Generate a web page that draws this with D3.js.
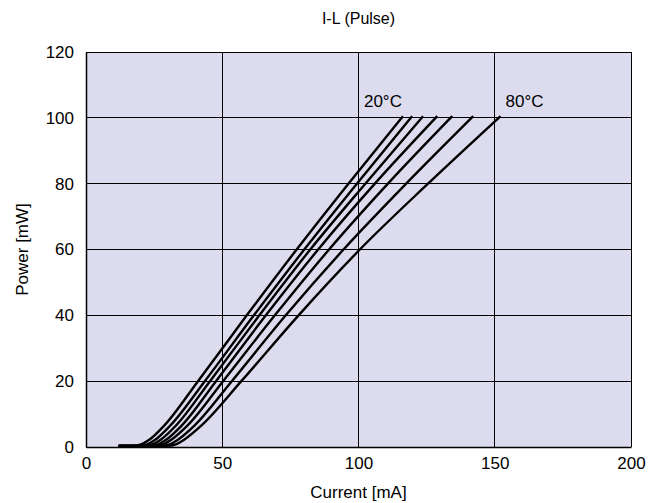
<!DOCTYPE html>
<html>
<head>
<meta charset="utf-8">
<script src="https://cdn.jsdelivr.net/npm/d3@7"></script>
<style>
  html, body { margin: 0; padding: 0; background: #ffffff; }
  svg { display: block; font-family: "Liberation Sans", Arial, sans-serif; }
</style>
</head>
<body>
<svg id="chart" width="648" height="503"></svg>
<script>
// ---- data ----
const title = "I-L (Pulse)";
const xLabel = "Current [mA]";
const yLabel = "Power [mW]";
const xTicks = [0, 50, 100, 150, 200];
const yTicks = [0, 20, 40, 60, 80, 100, 120];
const temperatures = ["20°C", "30°C", "40°C", "50°C", "60°C", "70°C", "80°C"];

// power levels (mW) at which each curve's current (mA) was read
const powerLevels = [0.3, 0.35, 0.8, 2.2, 6.5, 20, 40, 60, 80, 100.5];
const current20 = [12, 17.2, 20.2, 23.2, 28.7, 41.1, 59.0, 77.3, 96.3, 116.3];
const current30 = [12, 19.4, 22.4, 25.4, 30.9, 43.6, 61.6, 80.1, 99.4, 119.7];
const current40 = [12, 21.4, 24.4, 27.4, 33.0, 45.5, 63.6, 82.3, 102.5, 123.7];
const current50 = [12, 23.4, 26.4, 29.4, 35.1, 47.7, 66.0, 85.2, 106.0, 128.9];
const current60 = [12, 25.3, 28.3, 31.3, 37.2, 50.3, 69.3, 89.2, 110.8, 134.4];
const current70 = [12, 27.7, 30.7, 33.7, 39.8, 53.5, 73.3, 94.5, 117.5, 142.1];
const current80 = [12, 30.0, 33.0, 36.0, 42.3, 57.0, 78.0, 100.5, 125.5, 152.1];
const seriesCurrents = [current20, current30, current40, current50, current60, current70, current80];

// ---- layout ----
const svg = d3.select("#chart");
const margin = { left: 86, right: 17, top: 52, bottom: 56 };
const W = 648, H = 503;
const FS = 17;
const x = d3.scaleLinear().domain([0, 200]).range([margin.left, W - margin.right]);
const y = d3.scaleLinear().domain([0, 120]).range([H - margin.bottom, margin.top]);

// plot background
svg.append("rect")
  .attr("x", x(0)).attr("y", y(120))
  .attr("width", x(200) - x(0)).attr("height", y(0) - y(120))
  .attr("fill", "#dcdcee");

// grid
svg.append("g").selectAll("line").data(xTicks).join("line")
  .attr("x1", d => x(d)).attr("x2", d => x(d))
  .attr("y1", y(0)).attr("y2", y(120))
  .attr("stroke", "#000").attr("stroke-width", 1).attr("shape-rendering", "crispEdges");
svg.append("g").selectAll("line").data(yTicks).join("line")
  .attr("y1", d => y(d)).attr("y2", d => y(d))
  .attr("x1", x(0)).attr("x2", x(200))
  .attr("stroke", "#000").attr("stroke-width", 1).attr("shape-rendering", "crispEdges");

// axes (labels only)
const xAxis = d3.axisBottom(x).tickValues(xTicks).tickSize(0).tickPadding(10);
const yAxis = d3.axisLeft(y).tickValues(yTicks).tickSize(0).tickPadding(12);
const gx = svg.append("g").attr("transform", `translate(0,${y(0)})`).call(xAxis);
const gy = svg.append("g").attr("transform", `translate(${x(0)},0)`).call(yAxis);
[gx, gy].forEach(g => {
  g.select(".domain").attr("stroke", "#000").attr("stroke-width", 1.5);
  g.selectAll("text").attr("font-size", FS).attr("fill", "#000")
    .attr("font-family", "'Liberation Sans', Arial, sans-serif");
});

// curves
const line = d3.line()
  .x(d => x(d[0])).y(d => y(d[1]))
  .curve(d3.curveMonotoneX);
svg.append("g").selectAll("path")
  .data(seriesCurrents.map(cs => cs.map((c, i) => [c, powerLevels[i]])))
  .join("path")
  .attr("d", line)
  .attr("fill", "none")
  .attr("stroke", "#000")
  .attr("stroke-width", 2.4)
  .attr("stroke-linejoin", "round");

// curve labels
const firstCurve = seriesCurrents[0], lastCurve = seriesCurrents[seriesCurrents.length - 1];
const topP = powerLevels[powerLevels.length - 1];
svg.append("text")
  .attr("x", x(firstCurve[firstCurve.length - 1]) - 1).attr("y", y(topP) - 9)
  .attr("text-anchor", "end").attr("font-size", FS).text(temperatures[0]);
svg.append("text")
  .attr("x", x(lastCurve[lastCurve.length - 1]) + 5).attr("y", y(topP) - 9)
  .attr("text-anchor", "start").attr("font-size", FS).text(temperatures[temperatures.length - 1]);

// title and axis labels
svg.append("text").attr("x", (x(0) + x(200)) / 2).attr("y", 24)
  .attr("text-anchor", "middle").attr("font-size", 16).text(title);
svg.append("text").attr("x", (x(0) + x(200)) / 2).attr("y", 498)
  .attr("text-anchor", "middle").attr("font-size", FS).text(xLabel);
svg.append("text")
  .attr("transform", `translate(28,${(y(0) + y(120)) / 2}) rotate(-90)`)
  .attr("text-anchor", "middle").attr("font-size", FS).text(yLabel);
</script>
</body>
</html>
